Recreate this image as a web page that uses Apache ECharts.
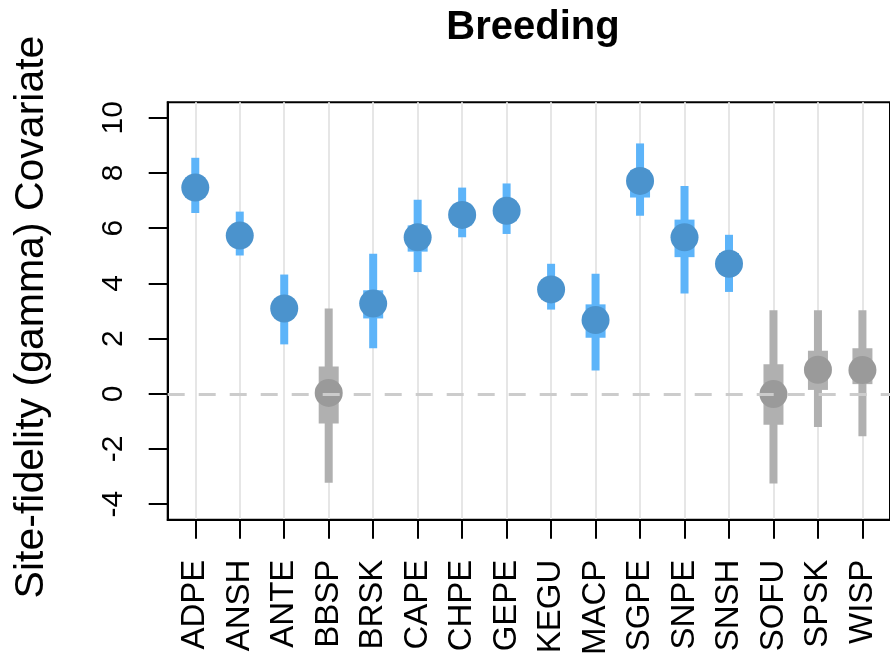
<!DOCTYPE html>
<html>
<head>
<meta charset="utf-8">
<script src="https://cdn.jsdelivr.net/npm/echarts@6/dist/echarts.min.js"></script>
<style>
  html, body { margin: 0; padding: 0; background: #ffffff; }
  #chart { width: 890px; height: 658px; }
</style>
</head>
<body>
<div id="chart"></div>
<script>
// Species codes along the x axis
const categories = ['ADPE','ANSH','ANTE','BBSP','BRSK','CAPE','CHPE','GEPE','KEGU','MACP','SGPE','SNPE','SNSH','SOFU','SPSK','WISP'];
// Posterior point estimates of the site-fidelity covariate
const estimate  = [7.47, 5.73, 3.09, 0.03, 3.27, 5.67, 6.48, 6.63, 3.78, 2.67, 7.71, 5.67, 4.71, -0.01, 0.87, 0.86];
// Outer (wide) credible interval
const outerLow  = [6.55, 5.01, 1.79, -3.22, 1.65, 4.41, 5.67, 5.79, 3.05, 0.84, 6.45, 3.63, 3.69, -3.25, -1.20, -1.54];
const outerHigh = [8.55, 6.60, 4.32, 3.09, 5.07, 7.03, 7.47, 7.62, 4.71, 4.35, 9.07, 7.53, 5.76, 3.03, 3.03, 3.03];
// Inner (narrow) credible interval
const innerLow  = [7.10, 5.40, 2.75, -1.08, 2.73, 5.15, 6.10, 6.25, 3.42, 2.03, 7.11, 4.95, 4.35, -1.12, 0.14, 0.35];
const innerHigh = [7.85, 6.05, 3.45, 0.99, 3.75, 6.10, 6.85, 7.00, 4.15, 3.24, 8.10, 6.31, 5.10, 1.07, 1.56, 1.65];
// Y tick labels
const yTicks = [-4, -2, 0, 2, 4, 6, 8, 10];

const FONT = 'Liberation Sans, Arial, sans-serif';
const positions = categories.map((_, i) => i + 1);

const rows = categories.map((c, i) => [i + 1, estimate[i], outerLow[i], outerHigh[i], innerLow[i], innerHigh[i]]);

const chart = echarts.init(document.getElementById('chart'), null, { renderer: 'canvas' });

function renderInterval(params, api) {
  const pos = api.value(0);
  const lo = api.value(2);
  const hi = api.value(3);
  const ilo = api.value(4);
  const ihi = api.value(5);
  const est = api.value(1);
  // Interval excluding zero is drawn in blue, otherwise grey
  const sig = lo > 0 || hi < 0;
  const barColor = sig ? '#5db4f9' : '#b0b0b0';
  const ptColor = sig ? '#4b93cd' : '#9a9a9a';
  const x = api.coord([pos, 0])[0];
  const yHi = api.coord([pos, hi])[1];
  const yLo = api.coord([pos, lo])[1];
  const yIhi = api.coord([pos, ihi])[1];
  const yIlo = api.coord([pos, ilo])[1];
  const yEst = api.coord([pos, est])[1];
  return {
    type: 'group',
    children: [
      { type: 'rect', shape: { x: x - 4, y: yHi, width: 8, height: yLo - yHi }, style: { fill: barColor } },
      { type: 'rect', shape: { x: x - 10, y: yIhi, width: 20, height: yIlo - yIhi }, style: { fill: barColor } },
      { type: 'circle', shape: { cx: x, cy: yEst, r: 14 }, style: { fill: ptColor } }
    ]
  };
}

chart.setOption({
  animation: false,
  backgroundColor: '#ffffff',
  title: {
    text: 'Breeding',
    left: 528,
    textAlign: 'center',
    top: 3,
    textStyle: { fontFamily: FONT, fontSize: 40, fontWeight: 'bold', color: '#000000' }
  },
  grid: {
    left: 167.7,
    top: 102.3,
    width: 732,
    height: 419.4,
    show: true,
    borderColor: '#000000',
    borderWidth: 2,
    backgroundColor: 'transparent'
  },
  xAxis: {
    type: 'value',
    min: 0.38,
    max: 16.62,
    axisLine: { show: true, onZero: false, lineStyle: { color: '#000000', width: 2 } },
    axisTick: { show: true, customValues: positions, length: 19, lineStyle: { color: '#000000', width: 2 } },
    axisLabel: {
      customValues: positions,
      rotate: 90,
      margin: 40,
      fontFamily: FONT,
      fontSize: 33,
      color: '#000000',
      formatter: v => categories[Math.round(v) - 1] || ''
    },
    splitLine: { show: true, lineStyle: { color: '#e6e6e6', width: 2 } }
  },
  yAxis: {
    type: 'value',
    min: -4.56,
    max: 10.56,
    axisLine: { show: true, onZero: false, lineStyle: { color: '#000000', width: 2 } },
    axisTick: { show: true, customValues: yTicks, length: 19, lineStyle: { color: '#000000', width: 2 } },
    axisLabel: {
      customValues: yTicks,
      rotate: 90,
      margin: 39,
      fontFamily: FONT,
      fontSize: 30,
      color: '#000000'
    },
    splitLine: { show: false }
  },
  graphic: [{
    type: 'text',
    x: 32,
    y: 317,
    rotation: Math.PI / 2,
    style: {
      text: 'Site-fidelity (gamma) Covariate',
      fontFamily: FONT,
      fontSize: 41,
      fill: '#000000',
      align: 'center',
      verticalAlign: 'middle'
    }
  }],
  series: [
    {
      type: 'line',
      data: [],
      z: 1,
      markLine: {
        silent: true,
        symbol: 'none',
        label: { show: false },
        lineStyle: { color: '#cccccc', width: 3, type: [17, 14] },
        data: [{ yAxis: 0 }]
      }
    },
    {
      type: 'custom',
      z: 2,
      renderItem: renderInterval,
      encode: { x: 0, y: [1, 2, 3, 4, 5] },
      data: rows
    }
  ]
});
</script>
</body>
</html>
